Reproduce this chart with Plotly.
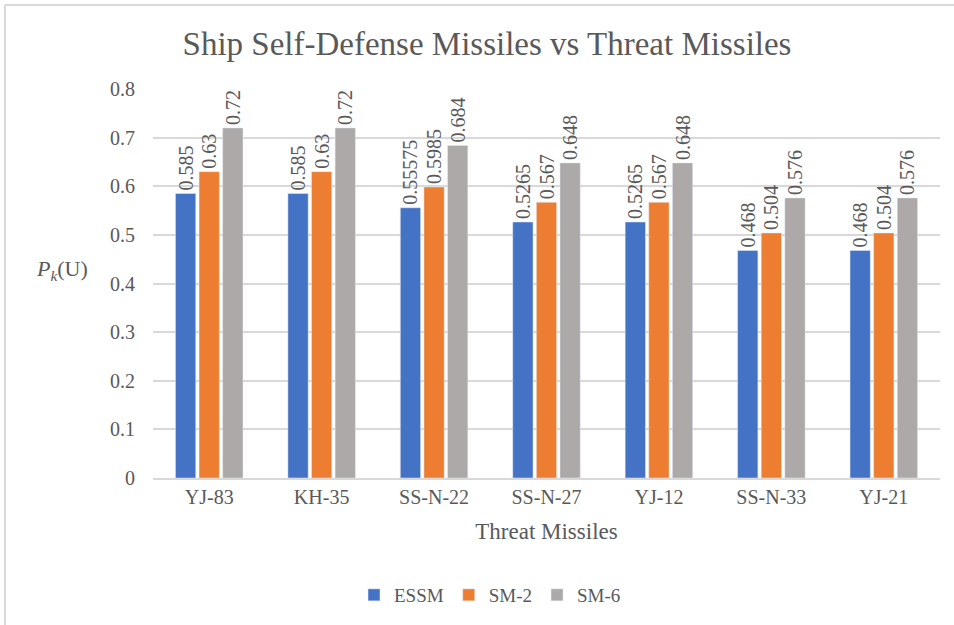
import plotly.graph_objects as go

categories = ["YJ-83", "KH-35", "SS-N-22", "SS-N-27", "YJ-12", "SS-N-33", "YJ-21"]
essm = [0.585, 0.585, 0.55575, 0.5265, 0.5265, 0.468, 0.468]
sm2 = [0.63, 0.63, 0.5985, 0.567, 0.567, 0.504, 0.504]
sm6 = [0.72, 0.72, 0.684, 0.648, 0.648, 0.576, 0.576]
y_ticks = [0, 0.1, 0.2, 0.3, 0.4, 0.5, 0.6, 0.7, 0.8]

series = [("ESSM", essm, "#4472C4"), ("SM-2", sm2, "#ED7D31"), ("SM-6", sm6, "#ACA9A8")]
txt = "#595959"
serif = "Liberation Serif"

fig = go.Figure()
for name, vals, col in series:
    fig.add_trace(go.Bar(
        x=categories, y=vals, name=name, marker_color=col,
        text=[str(v) for v in vals], textposition="outside",
        textangle=-90, constraintext="none",
        textfont=dict(family=serif, size=20, color=txt),
        cliponaxis=False,
    ))

L, R, T, B = 153, 14, 89, 147
W, H = 954, 625
pw = W - L - R
ph = H - T - B

def px2x(px):
    return (px - L) / pw

def py2y(py):
    return (H - B - py) / ph

fig.update_layout(
    width=W, height=H,
    margin=dict(l=L, r=R, t=T, b=B, pad=0, autoexpand=False),
    paper_bgcolor="white", plot_bgcolor="white",
    barmode="group", bargap=0.37, bargroupgap=0.14,
    font=dict(family=serif, color=txt),
    title=dict(text="Ship Self-Defense Missiles vs Threat Missiles",
               x=px2x(487), xref="paper", xanchor="center",
               y=1 - 43 / H, yanchor="middle",
               font=dict(family=serif, size=33, color=txt)),
    xaxis=dict(title=dict(text="Threat Missiles", font=dict(family=serif, size=23, color=txt), standoff=16),
               tickfont=dict(family=serif, size=20, color=txt),
               range=[-0.5, 6.5],
               showline=True, linecolor="#D9D9D9", linewidth=1.5, ticks="",
               showgrid=False),
    yaxis=dict(range=[0, 0.8], tickvals=y_ticks, ticktext=[("%g" % v) for v in y_ticks],
               tickfont=dict(family=serif, size=20, color=txt),
               showgrid=True, gridcolor="#D9D9D9", gridwidth=1.5,
               zeroline=False, ticks="", ticklabelstandoff=17),
    legend=dict(orientation="h", x=px2x(490), xanchor="center", y=py2y(595), yanchor="middle",
                font=dict(family=serif, size=19, color=txt), itemwidth=30, traceorder="normal"),
    showlegend=True,
)

fig.add_annotation(text="<i>P</i><sub><i>k</i></sub>(U)", xref="paper", yref="paper",
                   x=px2x(62), y=py2y(270), xanchor="center", yanchor="middle", showarrow=False,
                   font=dict(family=serif, size=22, color=txt))

fig.add_shape(type="line", xref="paper", yref="paper",
              x0=px2x(5), x1=px2x(960), y0=py2y(5), y1=py2y(5),
              line=dict(color="#D9D9D9", width=2))
fig.add_shape(type="line", xref="paper", yref="paper",
              x0=px2x(5), x1=px2x(5), y0=py2y(5), y1=py2y(630),
              line=dict(color="#D9D9D9", width=2))

fig.write_html("out.html", config={"displayModeBar": False},
               post_script="document.body.style.margin='0';document.body.style.overflow='hidden';")
